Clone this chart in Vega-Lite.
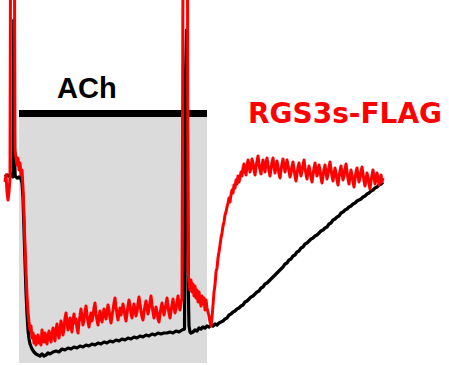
{
  "$schema": "https://vega.github.io/schema/vega-lite/v6.json",
  "width": 449,
  "height": 365,
  "autosize": {"type": "fit", "contains": "padding"},
  "padding": 0,
  "background": "white",
  "config": {"view": {"stroke": null}},
  "datasets": {
    "control": [
      {"t":5,"I":-177},{"t":7,"I":-175},{"t":9,"I":-176},{"t":11,"I":-174},{"t":13,"I":-177},{"t":13.8,"I":-20},{"t":14.6,"I":-160},{"t":15.2,"I":-176},{"t":17,"I":-178},{"t":19,"I":-177},{"t":21,"I":-179},{"t":22,"I":-183},{"t":23,"I":-198},{"t":24,"I":-230},{"t":25,"I":-262},{"t":26,"I":-292},{"t":27,"I":-314},{"t":28,"I":-330},{"t":29,"I":-339},{"t":30,"I":-344},{"t":32,"I":-349},{"t":34,"I":-352},{"t":36,"I":-354},{"t":38,"I":-355},{"t":40,"I":-356},{"t":42,"I":-354},{"t":44,"I":-356},{"t":46,"I":-355},{"t":48,"I":-353},{"t":50,"I":-354},{"t":53,"I":-352},{"t":56,"I":-351},{"t":59,"I":-352},{"t":62,"I":-349},{"t":65,"I":-350},{"t":68,"I":-348},{"t":71,"I":-349},{"t":74,"I":-347},{"t":77,"I":-348},{"t":80,"I":-346},{"t":83,"I":-347},{"t":86,"I":-345},{"t":89,"I":-346},{"t":92,"I":-344},{"t":95,"I":-345},{"t":98,"I":-343},{"t":101,"I":-344},{"t":104,"I":-342},{"t":107,"I":-343},{"t":110,"I":-341},{"t":113,"I":-342},{"t":116,"I":-340},{"t":119,"I":-341},{"t":122,"I":-339},{"t":125,"I":-340},{"t":128,"I":-338},{"t":131,"I":-339},{"t":134,"I":-337},{"t":137,"I":-338},{"t":140,"I":-336},{"t":143,"I":-337},{"t":146,"I":-335},{"t":149,"I":-336},{"t":152,"I":-334},{"t":155,"I":-335},{"t":158,"I":-333},{"t":161,"I":-334},{"t":164,"I":-333},{"t":167,"I":-333},{"t":170,"I":-332},{"t":173,"I":-333},{"t":176,"I":-331},{"t":179,"I":-332},{"t":182,"I":-330},{"t":184.5,"I":-329},{"t":185.5,"I":-80},{"t":186.5,"I":-30},{"t":187.5,"I":-140},{"t":188.3,"I":-290},{"t":189,"I":-326},{"t":190,"I":-332},{"t":191,"I":-333},{"t":193,"I":-332},{"t":195,"I":-330},{"t":197,"I":-331},{"t":199,"I":-328},{"t":201,"I":-329},{"t":203,"I":-327},{"t":205,"I":-328},{"t":207,"I":-326},{"t":209,"I":-327},{"t":211,"I":-325},{"t":213,"I":-326},{"t":215,"I":-324},{"t":217,"I":-325},{"t":219,"I":-323},{"t":221,"I":-322},{"t":223,"I":-321},{"t":225,"I":-319},{"t":227,"I":-318},{"t":229,"I":-315},{"t":231,"I":-314},{"t":233,"I":-312},{"t":235,"I":-311},{"t":237,"I":-309},{"t":239,"I":-308},{"t":241,"I":-306},{"t":243,"I":-305},{"t":245,"I":-302},{"t":247,"I":-301},{"t":249,"I":-299},{"t":251,"I":-297},{"t":253,"I":-296},{"t":255,"I":-294},{"t":257,"I":-292},{"t":259,"I":-291},{"t":261,"I":-288},{"t":263,"I":-287},{"t":265,"I":-284},{"t":267,"I":-283},{"t":269,"I":-281},{"t":271,"I":-279},{"t":273,"I":-277},{"t":275,"I":-275},{"t":277,"I":-273},{"t":279,"I":-271},{"t":281,"I":-269},{"t":283,"I":-267},{"t":285,"I":-264},{"t":287,"I":-263},{"t":289,"I":-260},{"t":291,"I":-259},{"t":293,"I":-256},{"t":295,"I":-255},{"t":297,"I":-252},{"t":299,"I":-251},{"t":301,"I":-248},{"t":303,"I":-247},{"t":305,"I":-244},{"t":307,"I":-243},{"t":309,"I":-241},{"t":311,"I":-239},{"t":313,"I":-238},{"t":315,"I":-236},{"t":317,"I":-235},{"t":319,"I":-233},{"t":321,"I":-231},{"t":323,"I":-230},{"t":325,"I":-228},{"t":327,"I":-227},{"t":329,"I":-224},{"t":331,"I":-223},{"t":333,"I":-220},{"t":335,"I":-219},{"t":337,"I":-217},{"t":339,"I":-216},{"t":341,"I":-213},{"t":343,"I":-212},{"t":345,"I":-210},{"t":347,"I":-209},{"t":349,"I":-207},{"t":351,"I":-206},{"t":353,"I":-204},{"t":355,"I":-203},{"t":357,"I":-201},{"t":359,"I":-200},{"t":361,"I":-199},{"t":363,"I":-197},{"t":365,"I":-196},{"t":367,"I":-194},{"t":369,"I":-193},{"t":371,"I":-191},{"t":373,"I":-190},{"t":375,"I":-188},{"t":377,"I":-187},{"t":379,"I":-185},{"t":381,"I":-184},{"t":383,"I":-182}
    ],
    "rgs": [
      {"t":5,"I":-182},{"t":6,"I":-175},{"t":7,"I":-192},{"t":8,"I":-200},{"t":9,"I":-192},{"t":10,"I":-178},{"t":10.5,"I":30},{"t":14.5,"I":30},{"t":15,"I":-150},{"t":16,"I":-158},{"t":17,"I":-165},{"t":18,"I":-158},{"t":19,"I":-170},{"t":20,"I":-163},{"t":21,"I":-175},{"t":22,"I":-170},{"t":23,"I":-188},{"t":24,"I":-215},{"t":25,"I":-245},{"t":26,"I":-272},{"t":27,"I":-295},{"t":28,"I":-312},{"t":29,"I":-322},{"t":30,"I":-330},{"t":31,"I":-326},{"t":32,"I":-338},{"t":33,"I":-333},{"t":34,"I":-343},{"t":35,"I":-336},{"t":36,"I":-345},
      {"t":37,"I":-340},{"t":38,"I":-335},{"t":39,"I":-343},{"t":40,"I":-338},{"t":41,"I":-345},{"t":42,"I":-330},{"t":43,"I":-336},{"t":44,"I":-342},{"t":45,"I":-333},{"t":46,"I":-339},{"t":47,"I":-344},{"t":48,"I":-336},{"t":49,"I":-331},
      {"t":50,"I":-338},{"t":51,"I":-342},{"t":52,"I":-334},{"t":53,"I":-328},{"t":54,"I":-337},{"t":55,"I":-341},{"t":56,"I":-329},{"t":57,"I":-324},{"t":58,"I":-333},{"t":59,"I":-338},
      {"t":60,"I":-330},{"t":61,"I":-321},{"t":62,"I":-327},{"t":63,"I":-335},{"t":64,"I":-329},{"t":65,"I":-318},{"t":66,"I":-313},{"t":67,"I":-322},{"t":68,"I":-330},{"t":69,"I":-325},
      {"t":70,"I":-318},{"t":71,"I":-327},{"t":72,"I":-332},{"t":73,"I":-320},{"t":74,"I":-314},{"t":75,"I":-323},{"t":76,"I":-319},{"t":77,"I":-328},{"t":78,"I":-333},{"t":79,"I":-322},
      {"t":80,"I":-316},{"t":81,"I":-309},{"t":82,"I":-318},{"t":83,"I":-325},{"t":84,"I":-320},{"t":85,"I":-312},{"t":86,"I":-306},{"t":87,"I":-315},{"t":88,"I":-322},{"t":89,"I":-327},
      {"t":90,"I":-318},{"t":91,"I":-313},{"t":92,"I":-321},{"t":93,"I":-316},{"t":94,"I":-308},{"t":95,"I":-303},{"t":96,"I":-314},{"t":97,"I":-320},{"t":98,"I":-325},{"t":99,"I":-317},
      {"t":100,"I":-311},{"t":101,"I":-318},{"t":102,"I":-322},{"t":103,"I":-315},{"t":104,"I":-309},{"t":105,"I":-314},{"t":106,"I":-319},{"t":107,"I":-312},{"t":108,"I":-305},{"t":109,"I":-310},
      {"t":110,"I":-318},{"t":111,"I":-323},{"t":112,"I":-316},{"t":113,"I":-310},{"t":114,"I":-303},{"t":115,"I":-298},{"t":116,"I":-307},{"t":117,"I":-314},{"t":118,"I":-320},{"t":119,"I":-313},
      {"t":120,"I":-308},{"t":121,"I":-315},{"t":122,"I":-310},{"t":123,"I":-304},{"t":124,"I":-309},{"t":125,"I":-316},{"t":126,"I":-321},{"t":127,"I":-314},{"t":128,"I":-306},{"t":129,"I":-300},
      {"t":130,"I":-305},{"t":131,"I":-313},{"t":132,"I":-318},{"t":133,"I":-311},{"t":134,"I":-304},{"t":135,"I":-310},{"t":136,"I":-316},{"t":137,"I":-312},{"t":138,"I":-303},{"t":139,"I":-297},
      {"t":140,"I":-304},{"t":141,"I":-311},{"t":142,"I":-317},{"t":143,"I":-320},{"t":144,"I":-312},{"t":145,"I":-306},{"t":146,"I":-301},{"t":147,"I":-308},{"t":148,"I":-314},{"t":149,"I":-309},
      {"t":150,"I":-302},{"t":151,"I":-296},{"t":152,"I":-305},{"t":153,"I":-312},{"t":154,"I":-318},{"t":155,"I":-313},{"t":156,"I":-307},{"t":157,"I":-312},{"t":158,"I":-319},{"t":159,"I":-322},
      {"t":160,"I":-314},{"t":161,"I":-308},{"t":162,"I":-303},{"t":163,"I":-309},{"t":164,"I":-315},{"t":165,"I":-310},{"t":166,"I":-304},{"t":167,"I":-298},{"t":168,"I":-306},{"t":169,"I":-313},
      {"t":170,"I":-318},{"t":171,"I":-311},{"t":172,"I":-305},{"t":173,"I":-299},{"t":174,"I":-307},{"t":175,"I":-313},{"t":176,"I":-309},{"t":177,"I":-302},{"t":178,"I":-296},{"t":179,"I":-304},
      {"t":180,"I":-310},{"t":181,"I":-303},{"t":182,"I":-298},
      {"t":183,"I":30},{"t":187.5,"I":30},{"t":188,"I":-270},{"t":189,"I":-282},
      {"t":190,"I":-290},{"t":191,"I":-280},{"t":192,"I":-292},{"t":193,"I":-284},{"t":194,"I":-296},{"t":195,"I":-286},{"t":196,"I":-298},{"t":197,"I":-290},{"t":198,"I":-302},{"t":199,"I":-292},{"t":200,"I":-300},{"t":201,"I":-306},{"t":202,"I":-296},{"t":203,"I":-304},{"t":204,"I":-298},{"t":205,"I":-310},{"t":206,"I":-300},{"t":207,"I":-308},{"t":208,"I":-312},{"t":209,"I":-316},{"t":210,"I":-322},{"t":211,"I":-326},{"t":212,"I":-318},{"t":213,"I":-305},{"t":214,"I":-292},{"t":215,"I":-285},{"t":216,"I":-272},{"t":217,"I":-268},{"t":218,"I":-258},{"t":219,"I":-252},{"t":220,"I":-245},{"t":221,"I":-238},{"t":222,"I":-233},{"t":223,"I":-226},{"t":224,"I":-222},{"t":225,"I":-215},{"t":226,"I":-212},{"t":227,"I":-207},{"t":228,"I":-203},{"t":229,"I":-198},{"t":230,"I":-202},{"t":231,"I":-195},{"t":232,"I":-190},{"t":233,"I":-193},{"t":234,"I":-185},{"t":235,"I":-188},{"t":236,"I":-180},{"t":237,"I":-184},{"t":238,"I":-176},{"t":239,"I":-182},
      {"t":240,"I":-178},{"t":241,"I":-172},{"t":242,"I":-176},{"t":243,"I":-168},{"t":244,"I":-164},{"t":245,"I":-171},{"t":246,"I":-175},{"t":247,"I":-166},{"t":248,"I":-160},{"t":249,"I":-165},
      {"t":250,"I":-172},{"t":251,"I":-168},{"t":252,"I":-159},{"t":253,"I":-163},{"t":254,"I":-170},{"t":255,"I":-175},{"t":256,"I":-167},{"t":257,"I":-161},{"t":258,"I":-156},{"t":259,"I":-164},
      {"t":260,"I":-170},{"t":261,"I":-174},{"t":262,"I":-166},{"t":263,"I":-160},{"t":264,"I":-168},{"t":265,"I":-172},{"t":266,"I":-163},{"t":267,"I":-158},{"t":268,"I":-165},{"t":269,"I":-171},
      {"t":270,"I":-176},{"t":271,"I":-169},{"t":272,"I":-162},{"t":273,"I":-158},{"t":274,"I":-166},{"t":275,"I":-173},{"t":276,"I":-168},{"t":277,"I":-161},{"t":278,"I":-167},{"t":279,"I":-174},
      {"t":280,"I":-178},{"t":281,"I":-170},{"t":282,"I":-164},{"t":283,"I":-159},{"t":284,"I":-166},{"t":285,"I":-172},{"t":286,"I":-167},{"t":287,"I":-160},{"t":288,"I":-165},{"t":289,"I":-171},
      {"t":290,"I":-177},{"t":291,"I":-173},{"t":292,"I":-166},{"t":293,"I":-162},{"t":294,"I":-169},{"t":295,"I":-176},{"t":296,"I":-181},{"t":297,"I":-174},{"t":298,"I":-167},{"t":299,"I":-163},
      {"t":300,"I":-170},{"t":301,"I":-176},{"t":302,"I":-171},{"t":303,"I":-165},{"t":304,"I":-160},{"t":305,"I":-168},{"t":306,"I":-174},{"t":307,"I":-179},{"t":308,"I":-172},{"t":309,"I":-166},
      {"t":310,"I":-171},{"t":311,"I":-177},{"t":312,"I":-182},{"t":313,"I":-175},{"t":314,"I":-168},{"t":315,"I":-163},{"t":316,"I":-170},{"t":317,"I":-176},{"t":318,"I":-172},{"t":319,"I":-165},
      {"t":320,"I":-170},{"t":321,"I":-178},{"t":322,"I":-183},{"t":323,"I":-176},{"t":324,"I":-169},{"t":325,"I":-165},{"t":326,"I":-172},{"t":327,"I":-179},{"t":328,"I":-174},{"t":329,"I":-167},
      {"t":330,"I":-162},{"t":331,"I":-169},{"t":332,"I":-176},{"t":333,"I":-181},{"t":334,"I":-174},{"t":335,"I":-168},{"t":336,"I":-173},{"t":337,"I":-180},{"t":338,"I":-185},{"t":339,"I":-177},
      {"t":340,"I":-171},{"t":341,"I":-166},{"t":342,"I":-173},{"t":343,"I":-180},{"t":344,"I":-176},{"t":345,"I":-169},{"t":346,"I":-164},{"t":347,"I":-172},{"t":348,"I":-179},{"t":349,"I":-184},
      {"t":350,"I":-177},{"t":351,"I":-170},{"t":352,"I":-175},{"t":353,"I":-182},{"t":354,"I":-187},{"t":355,"I":-179},{"t":356,"I":-172},{"t":357,"I":-168},{"t":358,"I":-175},{"t":359,"I":-182},
      {"t":360,"I":-178},{"t":361,"I":-171},{"t":362,"I":-167},{"t":363,"I":-174},{"t":364,"I":-181},{"t":365,"I":-186},{"t":366,"I":-179},{"t":367,"I":-173},{"t":368,"I":-177},{"t":369,"I":-184},
      {"t":370,"I":-189},{"t":371,"I":-181},{"t":372,"I":-175},{"t":373,"I":-170},{"t":374,"I":-177},{"t":375,"I":-184},{"t":376,"I":-179},{"t":377,"I":-173},{"t":378,"I":-178},{"t":379,"I":-185},
      {"t":380,"I":-181},{"t":381,"I":-175},{"t":382,"I":-182},{"t":383,"I":-178}
    ],
    "ach": [{"t0":19,"t1":207,"lo":-363,"hi":-115,"b0":-117,"b1":-110}],
    "labels": [
      {"t":57,"I":-98,"label":"ACh","kind":"ach"},
      {"t":248,"I":-123,"label":"RGS3s-FLAG","kind":"rgs"}
    ]
  },
  "layer": [
    {
      "data": {"name": "ach"},
      "mark": {"type": "rect", "color": "#dbdbdb"},
      "encoding": {
        "x": {"field": "t0", "type": "quantitative", "scale": {"domain": [0, 449], "nice": false, "zero": false}, "axis": null},
        "x2": {"field": "t1"},
        "y": {"field": "lo", "type": "quantitative", "scale": {"domain": [-365, 0], "nice": false, "zero": false}, "axis": null},
        "y2": {"field": "hi"}
      }
    },
    {
      "data": {"name": "ach"},
      "mark": {"type": "rect", "color": "black"},
      "encoding": {
        "x": {"field": "t0", "type": "quantitative"},
        "x2": {"field": "t1"},
        "y": {"field": "b0", "type": "quantitative"},
        "y2": {"field": "b1"}
      }
    },
    {
      "data": {"name": "control"},
      "mark": {"type": "line", "color": "black", "strokeWidth": 3.2, "clip": true, "strokeJoin": "round"},
      "encoding": {
        "x": {"field": "t", "type": "quantitative"},
        "y": {"field": "I", "type": "quantitative"},
        "order": {"field": "t", "type": "quantitative"}
      }
    },
    {
      "data": {"name": "rgs"},
      "mark": {"type": "line", "color": "#ff0000", "strokeWidth": 3, "clip": true, "strokeJoin": "round"},
      "encoding": {
        "x": {"field": "t", "type": "quantitative"},
        "y": {"field": "I", "type": "quantitative"},
        "order": {"field": "t", "type": "quantitative"}
      }
    },
    {
      "data": {"name": "labels"},
      "transform": [{"filter": "datum.kind == 'ach'"}],
      "mark": {"type": "text", "align": "left", "baseline": "alphabetic", "font": "Liberation Sans", "fontWeight": "bold", "fontSize": 29, "color": "black"},
      "encoding": {
        "x": {"field": "t", "type": "quantitative"},
        "y": {"field": "I", "type": "quantitative"},
        "text": {"field": "label"}
      }
    },
    {
      "data": {"name": "labels"},
      "transform": [{"filter": "datum.kind == 'rgs'"}],
      "mark": {"type": "text", "align": "left", "baseline": "alphabetic", "font": "DejaVu Sans", "fontWeight": "bold", "fontSize": 28, "color": "#ff0000"},
      "encoding": {
        "x": {"field": "t", "type": "quantitative"},
        "y": {"field": "I", "type": "quantitative"},
        "text": {"field": "label"}
      }
    }
  ]
}
